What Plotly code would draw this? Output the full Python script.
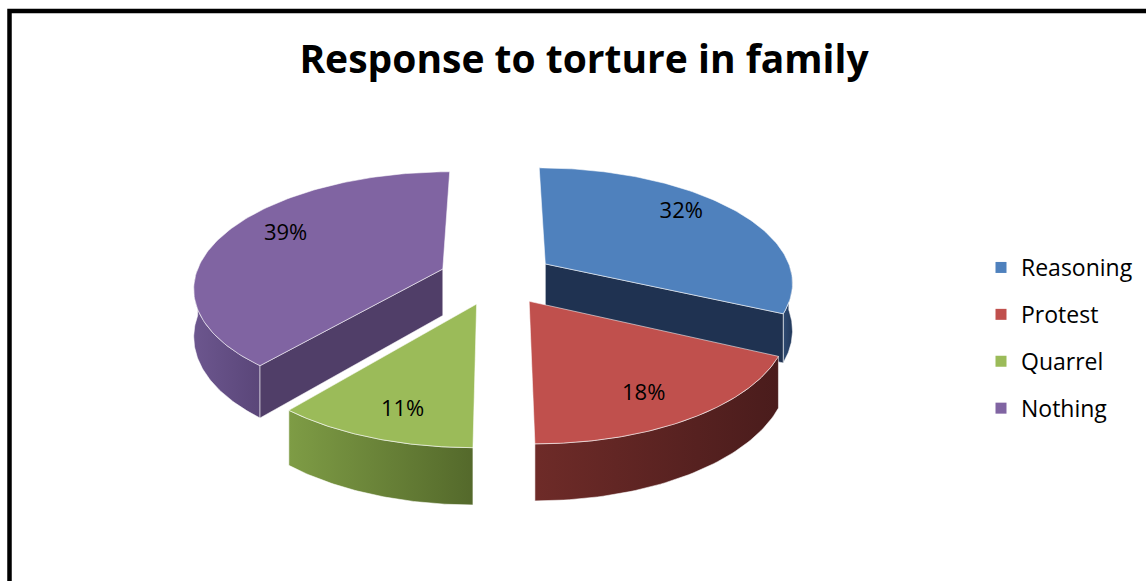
import numpy as np
import plotly.graph_objects as go

# Data
categories = ["Reasoning", "Protest", "Quarrel", "Nothing"]
values = [32, 18, 11, 39]

# Colours: top face, cut (radial) face, outer wall gradient (left -> right)
top_colors = ["#4F81BD", "#C0504D", "#9BBB59", "#8064A2"]
cut_colors = ["#1F3251", "#4D1E1E", "#55692C", "#503E68"]
wall_colors = [("#2F4B73", "#22385A"), ("#6E2B28", "#4A1C1C"),
               ("#7E9C45", "#54692B"), ("#6C568E", "#5A4679")]

# 3D pie geometry (pixel space)
CX, CY = 497, 278          # centre of the pie top
RX, RY = 248, 114          # ellipse radii
PERSP = 0.147              # front-to-back perspective strength
DEPTH = 47                 # slab thickness
EXPLODE = 0.235            # explosion distance (fraction of radius)
LABEL_FX, LABEL_FY, LABEL_DY = 0.72, 0.85, -4
W, H = 1146, 581
FONT = "Open Sans"


def project(X, Y, z):
    """Map unit-disc coordinates (Y positive toward the viewer) to pixels."""
    X = np.asarray(X, float)
    Y = np.asarray(Y, float)
    s = 1.0 / (1.0 - PERSP * Y)
    return CX + RX * X * s, CY + RY * Y * s + DEPTH * z * s


def poly_trace(xs, ys, fill=None, gradient=None):
    kw = dict(x=list(xs) + [xs[0]], y=list(ys) + [ys[0]], mode="lines",
              fill="toself", line=dict(color="rgba(255,255,255,0.55)", width=1),
              hoverinfo="skip", showlegend=False)
    if gradient is not None:
        kw["fillgradient"] = dict(type="horizontal",
                                  colorscale=[[0, gradient[0]], [1, gradient[1]]])
    else:
        kw["fillcolor"] = fill
    return go.Scatter(**kw)


total = float(sum(values))
bounds = np.concatenate([[0], np.cumsum(values)]) / total * 2 * np.pi

slices = []
for i, v in enumerate(values):
    a1, a2 = bounds[i], bounds[i + 1]
    mid = 0.5 * (a1 + a2)
    ox, oy = EXPLODE * np.sin(mid), -EXPLODE * np.cos(mid)
    slices.append(dict(i=i, a1=a1, a2=a2, mid=mid, ox=ox, oy=oy))

fig = go.Figure()

# back slices first, so front slices overlap them
for sl in sorted(slices, key=lambda d: d["oy"]):
    i, a1, a2, ox, oy = sl["i"], sl["a1"], sl["a2"], sl["ox"], sl["oy"]

    # outer curved wall: only the front half of the rim is visible
    lo, hi = max(a1, np.pi / 2), min(a2, 3 * np.pi / 2)
    if hi > lo:
        t = np.linspace(lo, hi, 60)
        X, Y = ox + np.sin(t), oy - np.cos(t)
        xt, yt = project(X, Y, 0)
        xb, yb = project(X, Y, 1)
        fig.add_trace(poly_trace(np.concatenate([xt, xb[::-1]]),
                                 np.concatenate([yt, yb[::-1]]),
                                 gradient=wall_colors[i]))

    # radial cut faces that face the viewer
    for ang, ny in ((a1, -np.sin(a1)), (a2, np.sin(a2))):
        if ny > 0.01:
            X = [ox, ox + np.sin(ang), ox + np.sin(ang), ox]
            Y = [oy, oy - np.cos(ang), oy - np.cos(ang), oy]
            Z = [0, 0, 1, 1]
            pts = [project(x, y, z) for x, y, z in zip(X, Y, Z)]
            fig.add_trace(poly_trace([float(p[0]) for p in pts],
                                     [float(p[1]) for p in pts],
                                     fill=cut_colors[i]))

    # top face
    t = np.linspace(a1, a2, 120)
    X = np.concatenate([[ox], ox + np.sin(t)])
    Y = np.concatenate([[oy], oy - np.cos(t)])
    xt, yt = project(X, Y, 0)
    fig.add_trace(poly_trace(xt, yt, fill=top_colors[i]))

# percentage labels on the slice tops
lx, ly, lt = [], [], []
for sl in slices:
    X = sl["ox"] + LABEL_FX * np.sin(sl["mid"])
    Y = sl["oy"] - LABEL_FY * np.cos(sl["mid"])
    px, py = project(X, Y, 0)
    lx.append(float(px))
    ly.append(float(py) + LABEL_DY)
    lt.append(f"{values[sl['i']] / total * 100:.0f}%")
fig.add_trace(go.Scatter(x=lx, y=ly, text=lt, mode="text",
                         textfont=dict(family=FONT, size=22, color="black"),
                         hoverinfo="skip", showlegend=False))

# legend entries
for i, name in enumerate(categories):
    fig.add_trace(go.Scatter(x=[None], y=[None], mode="markers", name=name,
                             legendgroup=name,
                             marker=dict(symbol="square", size=11,
                                         color=top_colors[i])))

fig.update_layout(
    width=W, height=H,
    margin=dict(l=0, r=0, t=0, b=0),
    paper_bgcolor="white", plot_bgcolor="white",
    xaxis=dict(range=[0, W], visible=False, fixedrange=True),
    yaxis=dict(range=[H, 0], visible=False, fixedrange=True),
    title=dict(text="<b>Response to torture in family</b>",
               x=584 / W, xanchor="center", y=1 - 59 / H, yanchor="middle",
               yref="container",
               font=dict(family=FONT, size=39, color="black")),
    legend=dict(x=981 / W, xanchor="left", y=1 - 246 / H, yanchor="top",
                traceorder="grouped", tracegroupgap=14,
                font=dict(family=FONT, size=23, color="black"),
                bgcolor="rgba(0,0,0,0)", itemwidth=30),
    shapes=[dict(type="rect", xref="x", yref="y", x0=9.5, y0=11, x1=W + 20,
                 y1=H + 20, line=dict(color="black", width=4.5))],
    showlegend=True,
)

fig.write_html("out.html")
